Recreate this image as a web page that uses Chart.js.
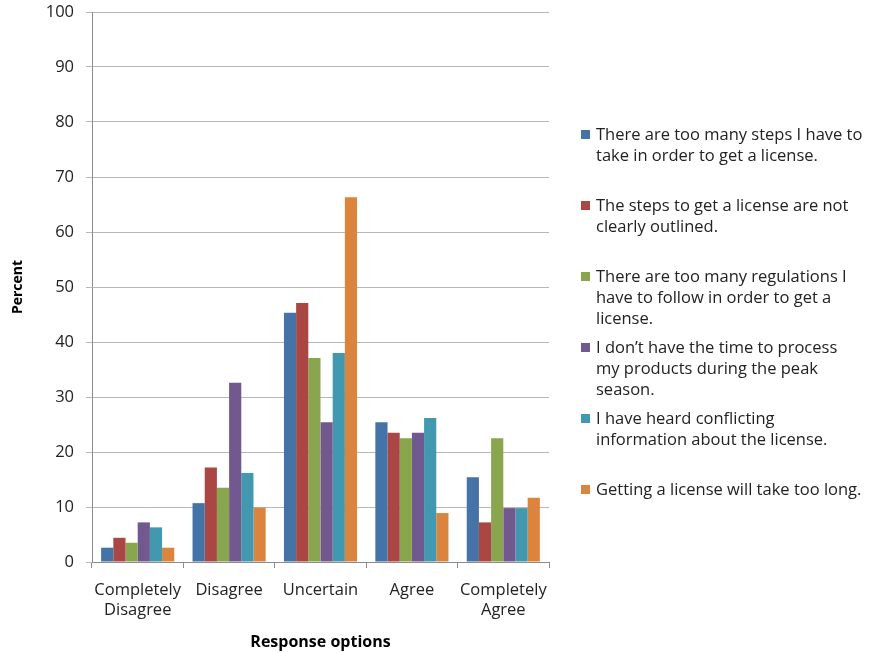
<!DOCTYPE html>
<html>
<head>
<meta charset="utf-8">
<script src="https://cdn.jsdelivr.net/npm/chart.js@4"></script>
<style>
  html, body { margin: 0; padding: 0; background: #fff; }
  #wrap { width: 874px; height: 653px; }
</style>
</head>
<body>
<div id="wrap"><canvas id="chart" width="874" height="653"></canvas></div>
<script>
// Categories along the x axis
const categories = [["Completely", "Disagree"], "Disagree", "Uncertain", "Agree", ["Completely", "Agree"]];

// Percent per series
const tooManySteps = [2.6, 10.7, 45.3, 25.4, 15.4];
const stepsNotOutlined = [4.4, 17.2, 47.1, 23.5, 7.2];
const tooManyRegulations = [3.5, 13.5, 37.1, 22.5, 22.5];
const noTimePeakSeason = [7.2, 32.6, 25.4, 23.5, 9.8];
const conflictingInfo = [6.3, 16.2, 38.0, 26.2, 9.8];
const takesTooLong = [2.6, 9.9, 66.3, 8.9, 11.7];

// Legend text, split the way the picture wraps it
const seriesLabels = [
    ["There are too many steps I have to", "take in order to get a license."],
    ["The steps to get a license are not", "clearly outlined."],
    ["There are too many regulations I", "have to follow in order to get a", "license."],
    ["I don\u2019t have the time to process", "my products during the peak", "season."],
    ["I have heard conflicting", "information about the license."],
    ["Getting a license will take too long."]
];
const seriesValues = [tooManySteps, stepsNotOutlined, tooManyRegulations, noTimePeakSeason, conflictingInfo, takesTooLong];
const seriesColors = ["#4572A7", "#AA4643", "#89A54E", "#71588F", "#4198AF", "#DB843D"];

const FONT = "'Open Sans', 'DejaVu Sans', sans-serif";

/**
 * Legend on the right, drawn on the canvas
 */
const sideLegend = {
    id: "sideLegend",
    afterDraw(chart) {
        const ctx = chart.ctx;
        ctx.save();
        ctx.font = "16.5px " + FONT;
        ctx.textBaseline = "middle";
        ctx.textAlign = "left";
        seriesLabels.forEach((lines, i) => {
            const y0 = 135 + i * 71;
            ctx.fillStyle = seriesColors[i];
            ctx.fillRect(581, y0 - 5, 9, 9);
            ctx.fillStyle = "#222";
            lines.forEach((line, j) => ctx.fillText(line, 596, y0 + j * 21));
        });
        ctx.restore();
    }
};

new Chart(document.getElementById("chart"), {
    type: "bar",
    data: {
        labels: categories,
        datasets: seriesValues.map((vals, i) => ({
            label: seriesLabels[i].join(" "),
            data: vals,
            backgroundColor: seriesColors[i],
            categoryPercentage: 0.8,
            barPercentage: 1.0
        }))
    },
    options: {
        responsive: false,
        animation: false,
        layout: { padding: { left: 0, right: 325, top: 12, bottom: 0 } },
        plugins: { legend: { display: false }, tooltip: { enabled: false } },
        scales: {
            x: {
                afterFit: s => { s.height = 91; },
                grid: { drawOnChartArea: false, tickLength: 6, color: "#8c8c8c", offset: true },
                border: { color: "#8c8c8c" },
                ticks: { color: "#222", font: { family: FONT, size: 16.5, lineHeight: "20px" }, padding: 12, maxRotation: 0, autoSkip: false },
                title: { display: true, text: "Response options", color: "#000", font: { family: FONT, size: 16, weight: "bold" }, padding: { top: 0, bottom: 1 } }
            },
            y: {
                min: 0,
                max: 100,
                afterFit: s => { s.width = 92; s.paddingTop = 0; s.paddingBottom = 0; },
                grid: { color: "#b8b8b8", tickLength: 6 },
                border: { color: "#8c8c8c" },
                ticks: { stepSize: 10, color: "#222", font: { family: FONT, size: 16.5 }, padding: 12 },
                title: { display: true, text: "Percent", color: "#000", font: { family: FONT, size: 14, weight: "bold" }, padding: { top: 10 } }
            }
        }
    },
    plugins: [sideLegend]
});
</script>
</body>
</html>
